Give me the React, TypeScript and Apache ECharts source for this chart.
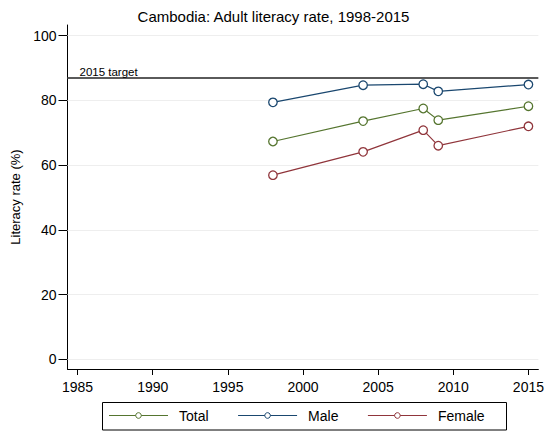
import React, { useEffect, useRef } from "react";
import * as echarts from "echarts";

const years = [1998, 2004, 2008, 2009, 2015];
const totalRate = [67.3, 73.6, 77.5, 73.9, 78.2];
const maleRate = [79.4, 84.7, 85.0, 82.8, 84.9];
const femaleRate = [56.9, 64.1, 70.8, 66.0, 72.0];
const target2015 = 87.0;
const xTicks = [1985, 1990, 1995, 2000, 2005, 2010, 2015];
const yTicks = [0, 20, 40, 60, 80, 100];

const FONT = "Liberation Sans, Arial, sans-serif";

export default function App() {
  const ref = useRef<HTMLDivElement>(null);
  useEffect(() => {
    if (!ref.current) return;
    const chart = echarts.init(ref.current, null, { renderer: "svg" });
    const mk = (name: string, vals: number[], color: string) => ({
      name,
      type: "line",
      z: 5,
      data: years.map((y, i) => [y, vals[i]]),
      symbol: "circle",
      symbolSize: 8.5,
      showSymbol: true,
      itemStyle: { color: "#ffffff", borderColor: color, borderWidth: 1.3 },
      lineStyle: { color, width: 1.2 },
      color,
    });
    chart.setOption({
      animation: false,
      backgroundColor: "#ffffff",
      textStyle: { fontFamily: FONT },
      title: {
        text: "Cambodia: Adult literacy rate, 1998-2015",
        left: "center",
        top: 4,
        textStyle: { fontFamily: FONT, fontSize: 15, fontWeight: "normal", color: "#000" },
      },
      grid: { left: 67.5, right: 6, top: 25, bottom: 64, containLabel: false },
      graphic: [
        {
          type: "rect",
          z: 0,
          silent: true,
          shape: { x: 102.5, y: 402.5, width: 404, height: 27.5 },
          style: { fill: "#ffffff", stroke: "#000000", lineWidth: 1 },
        },
      ],
      xAxis: {
        type: "value",
        min: 1984.33,
        max: 2015.66,
        axisLine: { show: true, onZero: false, lineStyle: { color: "#000", width: 1 } },
        axisTick: { show: true, length: 6, customValues: xTicks, lineStyle: { color: "#000" } },
        axisLabel: {
          customValues: xTicks,
          formatter: (v: number) => String(v),
          color: "#000",
          fontSize: 14,
          fontFamily: FONT,
          margin: 11,
          showMinLabel: true,
          showMaxLabel: true,
        },
        splitLine: { show: false },
      },
      yAxis: {
        type: "value",
        min: -3.0,
        max: 103.3,
        name: "Literacy rate (%)",
        nameLocation: "middle",
        nameGap: 42,
        nameTextStyle: { color: "#000", fontSize: 13, fontFamily: FONT },
        axisLine: { show: true, onZero: false, lineStyle: { color: "#000", width: 1 } },
        axisTick: { show: true, length: 9, customValues: yTicks, lineStyle: { color: "#000" } },
        axisLabel: {
          customValues: yTicks,
          formatter: (v: number) => String(v),
          color: "#000",
          fontSize: 14,
          fontFamily: FONT,
          margin: 11,
        },
        splitLine: { show: false },
      },
      legend: {
        data: ["Total", "Male", "Female"],
        left: 102.5,
        top: 407,
        padding: [0, 20, 0, 6],
        itemGap: 29,
        itemWidth: 59,
        itemHeight: 7,
        z: 10,
        lineStyle: { width: 1 },
        itemStyle: { borderWidth: 1 },
        textStyle: { color: "#000", fontSize: 14, lineHeight: 17, fontFamily: FONT, padding: [0, 0, 0, 6] },
      },
      series: [
        mk("Total", totalRate, "#55752f"),
        mk("Male", maleRate, "#1a476f"),
        mk("Female", femaleRate, "#90353b"),
        {
          name: "grid",
          type: "line",
          z: 1,
          data: [],
          silent: true,
          markLine: {
            silent: true,
            symbol: "none",
            z: 1,
            label: { show: false },
            lineStyle: { color: "#eeeeee", width: 1, type: "solid" },
            data: yTicks.map((v) => ({ yAxis: v })),
          },
        },
        {
          name: "target",
          type: "line",
          z: 3,
          data: [],
          silent: true,
          markLine: {
            silent: true,
            symbol: "none",
            lineStyle: { color: "#5a5a5a", width: 1.8, type: "solid" },
            label: {
              show: true,
              position: "insideStartTop",
              formatter: "2015 target",
              color: "#000",
              fontSize: 11.5,
              fontFamily: FONT,
              distance: [12, 0],
            },
            data: [{ yAxis: target2015 }],
          },
        },
      ],
    });
    return () => chart.dispose();
  }, []);
  return (
    <div
      ref={ref}
      style={{ position: "fixed", left: 0, top: 0, width: 547, height: 433 }}
    />
  );
}
